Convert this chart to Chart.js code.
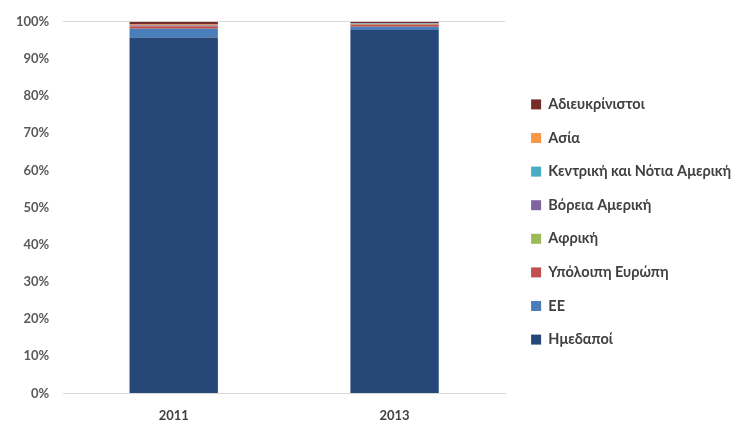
<!DOCTYPE html>
<html lang="el">
<head>
    <meta charset="UTF-8">
    <title>Ημεδαποί / αλλοδαποί</title>
    <script src="https://cdn.jsdelivr.net/npm/chart.js"></script>
    <style>
        html, body { margin: 0; padding: 0; background: #fff; }
        #wrap { width: 736px; height: 424px; }
    </style>
</head>
<body>
    <div id="wrap">
        <canvas id="originChart" width="736" height="424"></canvas>
    </div>
    <script>
        // δεδομένα (εκτίμηση από την εικόνα, %)
        const years = ['2011', '2013'];
        const seriesNames = ['Ημεδαποί', 'ΕΕ', 'Υπόλοιπη Ευρώπη', 'Αφρική', 'Βόρεια Αμερική', 'Κεντρική και Νότια Αμερική', 'Ασία', 'Αδιευκρίνιστοι'];
        const domestic = [95.8, 97.8];
        const eu = [2.3, 0.9];
        const restEurope = [0.7, 0.6];
        const africa = [0.1, 0.1];
        const northAmerica = [0.1, 0.1];
        const latinAmerica = [0.1, 0.1];
        const asia = [0.2, 0.1];
        const unspecified = [0.7, 0.3];
        const yTicks = [0, 10, 20, 30, 40, 50, 60, 70, 80, 90, 100];

        const colors = ['#254878', '#4a7ebb', '#c0504d', '#9bbb59', '#8064a2', '#4bacc6', '#f79646', '#772c2a'];
        const values = [domestic, eu, restEurope, africa, northAmerica, latinAmerica, asia, unspecified];

        const LEGEND_W = 231;
        const LEGEND_SHIFT = 7;
        const LEGEND_DY = -8;

        // σταθερό πλάτος legend, λίγο μετατοπισμένο
        const legendFix = {
            id: 'legendFix',
            beforeInit(chart) {
                const fit = chart.legend.fit;
                chart.legend.fit = function () {
                    fit.call(this);
                    this.width = LEGEND_W;
                };
            },
            afterLayout(chart) {
                chart.legend.left += LEGEND_SHIFT;
                chart.legend.top += LEGEND_DY;
                chart.legend.bottom += LEGEND_DY;
            }
        };

        function draw() {
            const datasets = seriesNames.map((name, i) => ({
                label: name,
                data: values[i],
                backgroundColor: colors[i],
                borderWidth: 0,
                barPercentage: 0.4,
                categoryPercentage: 1.0
            }));

            const ctx = document.getElementById('originChart').getContext('2d');
            new Chart(ctx, {
                type: 'bar',
                data: { labels: years, datasets: datasets },
                plugins: [legendFix],
                options: {
                    responsive: false,
                    animation: false,
                    layout: { padding: { top: 21, right: 0, bottom: -15, left: 2 } },
                    plugins: {
                        tooltip: { enabled: false },
                        legend: {
                            position: 'right',
                            reverse: true,
                            labels: {
                                boxWidth: 10,
                                boxHeight: 10,
                                padding: 19.1,
                                color: '#404040',
                                font: { family: 'Lato', size: 14.5, weight: 'bold' }
                            }
                        }
                    },
                    scales: {
                        x: {
                            stacked: true,
                            grid: { display: false, drawTicks: false },
                            border: { display: true, color: '#d9d9d9', width: 1 },
                            ticks: {
                                padding: 15,
                                color: '#404040',
                                font: { family: 'Lato', size: 13, weight: 'bold' }
                            }
                        },
                        y: {
                            stacked: true,
                            min: 0,
                            max: 100,
                            afterBuildTicks: axis => { axis.ticks = yTicks.map(v => ({ value: v })); },
                            grid: {
                                drawTicks: false,
                                color: c => (c.tick && c.tick.value === 100 ? '#d9d9d9' : 'rgba(0,0,0,0)')
                            },
                            border: { display: false },
                            ticks: {
                                padding: 14,
                                color: '#595959',
                                font: { family: 'Lato', size: 13, weight: 'bold' },
                                callback: v => v + '%'
                            }
                        }
                    }
                }
            });
        }

        Promise.all([
            document.fonts.load('bold 14.5px Lato'),
            document.fonts.load('bold 13px Lato')
        ]).then(draw, draw);
    </script>
</body>
</html>
